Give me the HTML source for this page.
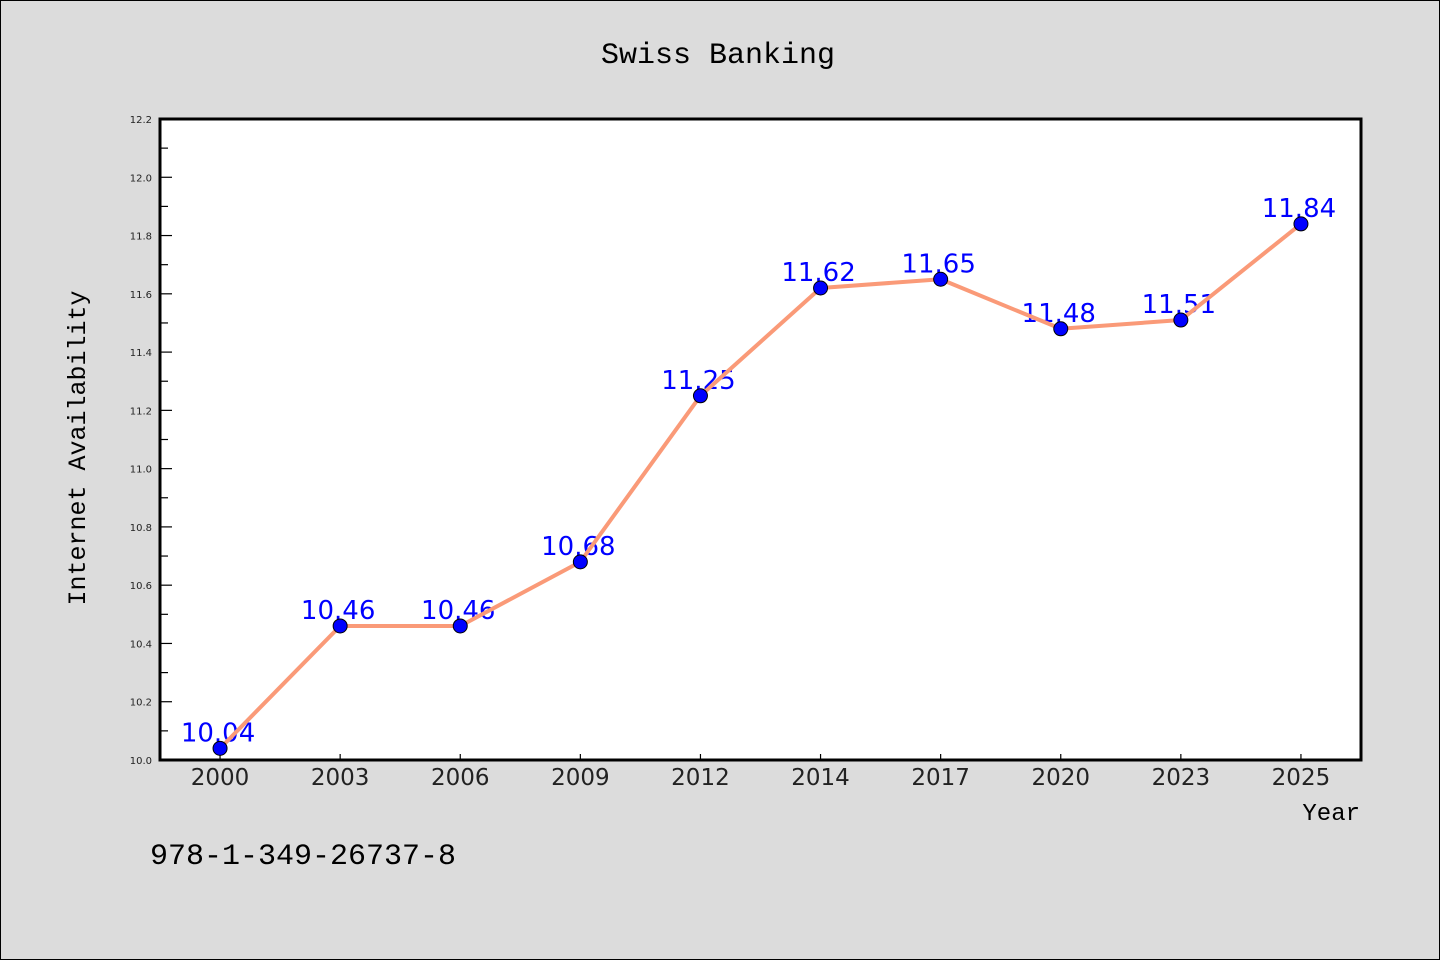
<!DOCTYPE html>
<html><head><meta charset="utf-8"><style>
body{margin:0;background:#dcdcdc;}
svg{display:block;}
</style></head><body>
<svg id="chart" width="1440" height="960" xmlns="http://www.w3.org/2000/svg">
<rect x="0.5" y="0.5" width="1439" height="959" fill="#dcdcdc" stroke="#000" stroke-width="1"/>
<text x="718" y="63" text-anchor="middle" font-family="'Liberation Mono', monospace" font-size="30" fill="#000">Swiss Banking</text>
<rect x="160" y="119" width="1201" height="641" fill="#fff"/>
<g id="yaxis"></g>
<g id="xaxis"></g>
<g id="labels"></g>
<g id="series"></g>
<rect x="160" y="119" width="1201" height="641" fill="none" stroke="#000" stroke-width="3"/>
<text transform="translate(85,448) rotate(-90)" text-anchor="middle" font-family="'Liberation Mono', monospace" font-size="25" fill="#000">Internet Availability</text>
<text x="1360" y="820" text-anchor="end" font-family="'Liberation Mono', monospace" font-size="24" fill="#000">Year</text>
<text x="150" y="864" font-family="'Liberation Mono', monospace" font-size="30" fill="#000">978-1-349-26737-8</text>
</svg>
<script>
const categories = ["2000","2003","2006","2009","2012","2014","2017","2020","2023","2025"];
const values = [10.04,10.46,10.46,10.68,11.25,11.62,11.65,11.48,11.51,11.84];
const yTicks = [10.0,10.2,10.4,10.6,10.8,11.0,11.2,11.4,11.6,11.8,12.0,12.2];
const yMin = 10.0, yMax = 12.2;
const NS = "http://www.w3.org/2000/svg";
const L = 160, R = 1361, T = 119, B = 760;
const step = (R - L) / categories.length;
function xPos(i){ return L + step * (i + 0.5); }
function yPos(v){ return B - (v - yMin) / (yMax - yMin) * (B - T); }
function mk(tag, attrs, parent){ const e = document.createElementNS(NS, tag); for (const k in attrs) e.setAttribute(k, attrs[k]); parent.appendChild(e); return e; }
const ya = document.getElementById('yaxis');
yTicks.forEach((t, i) => {
  const y = yPos(t);
  const tk = mk('line', {x1: L, x2: L + 12, y1: y, y2: y, stroke: '#000', 'stroke-width': 1.2}, ya);
  
  
  const lb = mk('text', {x: L - 8, y: y + 4, 'text-anchor': 'end', 'font-family': 'DejaVu Sans, sans-serif', 'font-size': 10, fill: '#222'}, ya);
  lb.textContent = t.toFixed(1);
  
  
  if (i < yTicks.length - 1) {
    const ym = yPos(t + 0.1);
    const mt = mk('line', {x1: L, x2: L + 8, y1: ym, y2: ym, stroke: '#000', 'stroke-width': 1.2}, ya);
    
    
  }
});
const xa = document.getElementById('xaxis');
categories.forEach((c, i) => {
  const x = xPos(i);
  const tk = mk('line', {x1: x, x2: x, y1: B, y2: B - 6, stroke: '#000', 'stroke-width': 1.2}, xa);
  
  
  const lb = mk('text', {x: x, y: B + 25, 'text-anchor': 'middle', 'font-family': 'DejaVu Sans, sans-serif', 'font-size': 23, fill: '#222'}, xa);
  lb.textContent = c;
  
  
});
const lg = document.getElementById('labels');
values.forEach((v, i) => {
  const t = mk('text', {x: xPos(i) - 2, y: yPos(v) - 7, 'text-anchor': 'middle', 'font-family': 'DejaVu Sans, sans-serif', 'font-size': 26, fill: '#0000ff'}, lg);
  t.textContent = v.toFixed(2);
  
  
});
const sg = document.getElementById('series');
const pts = values.map((v, i) => xPos(i) + ',' + yPos(v)).join(' ');
const pl = mk('polyline', {points: pts, fill: 'none', stroke: '#fa9a78', 'stroke-width': 4, 'stroke-linejoin': 'round'}, sg);


values.forEach((v, i) => {
  const c = mk('circle', {cx: xPos(i), cy: yPos(v), r: 7, fill: '#0000ff', stroke: '#000', 'stroke-width': 1}, sg);
  
  
});
</script>
</body></html>
